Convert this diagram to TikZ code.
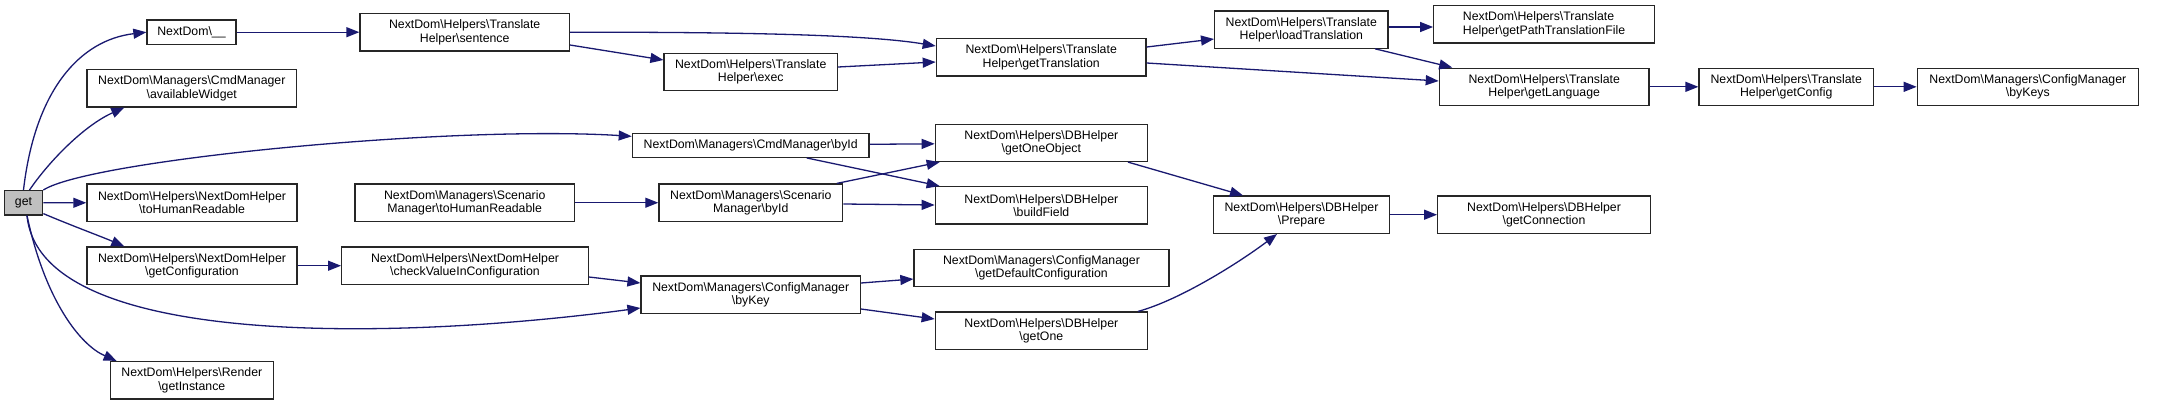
\documentclass[tikz,border=0pt]{standalone}
\usepackage{fontspec}
\setmainfont{Liberation Sans}
\usepackage{tikz}
\usetikzlibrary{arrows.meta,calc}
\usepackage{xcolor}
\definecolor{callblue}{HTML}{191970}
\definecolor{boxgray}{HTML}{BFBFBF}
\newcommand{\bsl}{\textbackslash}

\begin{document}
\begin{tikzpicture}[x=1pt, y=-1pt,
  call/.style={draw=black!85, line width=1.3pt, inner sep=0pt, align=center,
    minimum height=37.3pt, font=\fontsize{12.3}{13.3}\selectfont},
  flat/.style={call, minimum height=24.3pt},
  callarrow/.style={draw=callblue, line width=1.3pt, -{Triangle[length=13pt,width=10pt]}}]
  \useasboundingbox (0,0) rectangle (2178,405);
  % column 1
  \node[flat, fill=boxgray, minimum width=38.4pt] (get) at (23.5,202.8) {get};
  % column 2
  \node[flat, minimum width=89pt] (und) at (191.5,32.2) {NextDom\bsl\_\_};
  \node[call, minimum width=209.7pt] (avail) at (191.8,88.3) {NextDom\bsl Managers\bsl CmdManager\\\bsl availableWidget};
  \node[call, minimum width=210pt] (toHR) at (192,202.7) {NextDom\bsl Helpers\bsl NextDomHelper\\\bsl toHumanReadable};
  \node[call, minimum width=210pt] (getConf) at (192,265.7) {NextDom\bsl Helpers\bsl NextDomHelper\\\bsl getConfiguration};
  \node[call, minimum width=163pt] (render) at (191.8,380.2) {NextDom\bsl Helpers\bsl Render\\\bsl getInstance};
  % column 3
  \node[call, minimum width=209.3pt] (sentence) at (464.7,32.2) {NextDom\bsl Helpers\bsl Translate\\Helper\bsl sentence};
  \node[call, minimum width=219.3pt] (scenHR) at (464.7,202.7) {NextDom\bsl Managers\bsl Scenario\\Manager\bsl toHumanReadable};
  \node[call, minimum width=246.6pt] (checkVal) at (465,265.7) {NextDom\bsl Helpers\bsl NextDomHelper\\\bsl checkValueInConfiguration};
  % column 4
  \node[call, minimum width=173.3pt] (exec) at (750.7,72) {NextDom\bsl Helpers\bsl Translate\\Helper\bsl exec};
  \node[flat, minimum width=236.7pt, minimum height=24pt] (cmdById) at (750.7,145.3) {NextDom\bsl Managers\bsl CmdManager\bsl byId};
  \node[call, minimum width=183.7pt] (scenById) at (750.8,202.7) {NextDom\bsl Managers\bsl Scenario\\Manager\bsl byId};
  \node[call, minimum width=219.3pt] (byKey) at (750.7,294.7) {NextDom\bsl Managers\bsl ConfigManager\\\bsl byKey};
  % column 5
  \node[call, minimum width=209.7pt] (getTrans) at (1041.2,57.3) {NextDom\bsl Helpers\bsl Translate\\Helper\bsl getTranslation};
  \node[call, minimum width=212pt] (getOneObj) at (1041.3,142.8) {NextDom\bsl Helpers\bsl DBHelper\\\bsl getOneObject};
  \node[call, minimum width=212pt] (buildField) at (1041.3,205.3) {NextDom\bsl Helpers\bsl DBHelper\\\bsl buildField};
  \node[call, minimum width=255pt] (getDefConf) at (1041.5,268) {NextDom\bsl Managers\bsl ConfigManager\\\bsl getDefaultConfiguration};
  \node[call, minimum width=212pt] (getOne) at (1041.3,330.7) {NextDom\bsl Helpers\bsl DBHelper\\\bsl getOne};
  % column 6
  \node[call, minimum width=173.3pt] (loadTrans) at (1301.3,29.5) {NextDom\bsl Helpers\bsl Translate\\Helper\bsl loadTranslation};
  \node[call, minimum width=175.6pt] (prepare) at (1301.5,214.7) {NextDom\bsl Helpers\bsl DBHelper\\\bsl Prepare};
  % column 7
  \node[call, align=left, minimum width=220.6pt] (getPath) at (1544,24.2) {NextDom\bsl Helpers\bsl Translate\\Helper\bsl getPathTranslationFile};
  \node[call, minimum width=209.7pt] (getLang) at (1544.2,86.8) {NextDom\bsl Helpers\bsl Translate\\Helper\bsl getLanguage};
  \node[call, minimum width=212.6pt] (getConn) at (1544,214.7) {NextDom\bsl Helpers\bsl DBHelper\\\bsl getConnection};
  % column 8 and 9
  \node[call, minimum width=174.3pt] (getConfig) at (1786.2,86.8) {NextDom\bsl Helpers\bsl Translate\\Helper\bsl getConfig};
  \node[call, minimum width=221pt] (byKeys) at (2027.8,86.8) {NextDom\bsl Managers\bsl ConfigManager\\\bsl byKeys};

  % calls from get
  \draw[callarrow] (get.north) .. controls (35,90) and (80,40) .. (und.west);
  \draw[callarrow] ([xshift=6pt]get.north) .. controls (50,160) and (85,125) .. ([xshift=38pt]avail.south west);
  \draw[callarrow] (get.north east) .. controls (90,160) and (450,125) .. ([yshift=9pt]cmdById.west);
  \draw[callarrow] (get) -- (toHR);
  \draw[callarrow] ([yshift=2pt]get.south east) .. controls (70,225) and (100,236) .. ([xshift=38pt]getConf.north west);
  \draw[callarrow] ([xshift=3.5pt]get.south) .. controls (40,350) and (400,340) .. ([yshift=-13.3pt]byKey.west);
  \draw[callarrow] ([xshift=3.5pt]get.south) .. controls (45,300) and (80,345) .. ([xshift=7pt]render.north west);
  % translation chain
  \draw[callarrow] (und) -- (sentence);
  \draw[callarrow] (sentence.east) .. controls (750,32) and (870,35) .. ([yshift=11.3pt]getTrans.west);
  \draw[callarrow] ([yshift=-12.8pt]sentence.east) -- ([yshift=12pt]exec.west);
  \draw[callarrow] ([yshift=5pt]exec.east) -- ([yshift=-4.7pt]getTrans.west);
  \draw[callarrow] ([yshift=10.3pt]getTrans.east) -- ([yshift=-9.5pt]loadTrans.west);
  \draw[callarrow] ([yshift=-5.7pt]getTrans.east) -- ([yshift=5.8pt]getLang.west);
  \draw[callarrow] ([yshift=2.5pt]loadTrans.east) -- ([yshift=-2.8pt]getPath.west);
  \draw[callarrow] ([xshift=73.7pt]loadTrans.south) -- ([xshift=-92pt]getLang.north);
  \draw[callarrow] (getLang) -- (getConfig);
  \draw[callarrow] (getConfig) -- (byKeys);
  % database helpers
  \draw[callarrow] ([yshift=1pt]cmdById.east) -- ([yshift=-1pt]getOneObj.west);
  \draw[callarrow] ([xshift=56pt]cmdById.south) -- ([xshift=5pt]buildField.north west);
  \draw[callarrow] (scenHR) -- (scenById);
  \draw[callarrow] ([xshift=86pt]scenById.north) -- ([xshift=5pt]getOneObj.south west);
  \draw[callarrow] ([yshift=-1.3pt]scenById.east) -- ([yshift=0.3pt]buildField.west);
  \draw[callarrow] ([xshift=86.7pt]getOneObj.south) -- ([xshift=-58.5pt]prepare.north);
  \draw[callarrow] (prepare) -- (getConn);
  % configuration
  \draw[callarrow] (getConf) -- (checkVal);
  \draw[callarrow] ([yshift=-11.3pt]checkVal.east) -- ([yshift=11.7pt]byKey.west);
  \draw[callarrow] ([yshift=11.7pt]byKey.east) -- ([yshift=-11pt]getDefConf.west);
  \draw[callarrow] ([yshift=-14.3pt]byKey.east) -- ([yshift=11.7pt]getOne.west);
  \draw[callarrow] ([xshift=96.7pt]getOne.north) .. controls (1180,300) and (1240,262) .. ([xshift=-24.5pt]prepare.south);
\end{tikzpicture}
\end{document}
